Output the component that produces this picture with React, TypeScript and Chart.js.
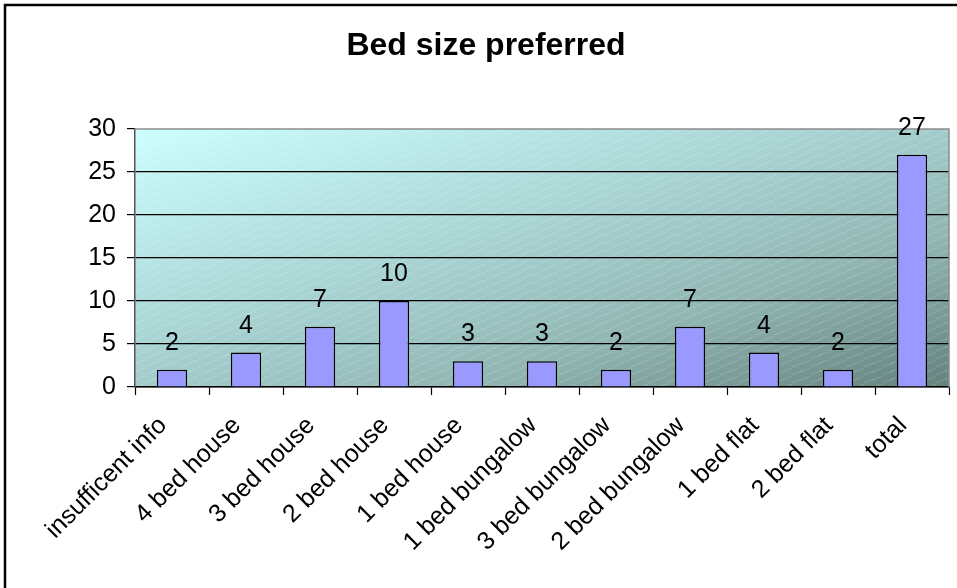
import React, { useEffect, useRef } from "react";
import { Chart, registerables } from "chart.js";

Chart.register(...registerables);

const categories = [
  "insufficent info",
  "4 bed house",
  "3 bed house",
  "2 bed house",
  "1 bed house",
  "1 bed bungalow",
  "3 bed bungalow",
  "2 bed bungalow",
  "1 bed flat",
  "2 bed flat",
  "total",
];
const counts = [2, 4, 7, 10, 3, 3, 2, 7, 4, 2, 27];
const yMin = 0;
const yMax = 30;
const yStep = 5;
const chartTitle = "Bed size preferred";

const FONT = "'Liberation Sans', Arial, Helvetica, sans-serif";

// Faint diagonal dash texture laid over the plot-area gradient.
function makeTexture(ctx: CanvasRenderingContext2D) {
  const tile = document.createElement("canvas");
  tile.width = 18;
  tile.height = 8;
  const t = tile.getContext("2d")!;
  t.strokeStyle = "rgba(255,255,255,0.16)";
  t.lineWidth = 1;
  t.beginPath();
  t.moveTo(0, 7);
  t.lineTo(11, 3);
  t.moveTo(9, 3.5);
  t.lineTo(18, 0.2);
  t.stroke();
  return ctx.createPattern(tile, "repeat");
}

// Outer frame, plot-area gradient and plot border drawn beneath the marks.
const backdropPlugin = {
  id: "backdrop",
  beforeDraw(chart: any) {
    const { ctx, chartArea: a } = chart;
    ctx.save();
    ctx.fillStyle = "#ffffff";
    ctx.fillRect(0, 0, chart.width, chart.height);

    // frame (only its top and left edges fall inside the canvas)
    ctx.strokeStyle = "#000000";
    ctx.lineWidth = 2.5;
    ctx.beginPath();
    ctx.moveTo(5, chart.height + 5);
    ctx.lineTo(5, 5);
    ctx.lineTo(chart.width + 5, 5);
    ctx.stroke();

    // diagonal gradient: equal tones along the bottom-left to top-right diagonal
    const w = a.right - a.left;
    const h = a.bottom - a.top;
    const len = Math.sqrt(w * w + h * h);
    const dx = h / len;
    const dy = w / len;
    const half = (w * h) / len;
    const cx = (a.left + a.right) / 2;
    const cy = (a.top + a.bottom) / 2;
    const g = ctx.createLinearGradient(
      cx - dx * half,
      cy - dy * half,
      cx + dx * half,
      cy + dy * half
    );
    g.addColorStop(0, "#ccffff");
    g.addColorStop(0.5, "#a2cccb");
    g.addColorStop(0.7, "#91b6b3");
    g.addColorStop(1, "#64827e");
    ctx.fillStyle = g;
    ctx.fillRect(a.left, a.top, w, h);
    const pat = makeTexture(ctx);
    if (pat) {
      ctx.fillStyle = pat;
      ctx.fillRect(a.left, a.top, w, h);
    }
    ctx.restore();
  },
  beforeDatasetsDraw(chart: any) {
    const { ctx, chartArea: a } = chart;
    ctx.save();
    ctx.strokeStyle = "#8c8c8c";
    ctx.lineWidth = 1.5;
    ctx.beginPath();
    ctx.moveTo(a.left, a.top);
    ctx.lineTo(a.right, a.top);
    ctx.lineTo(a.right, a.bottom);
    ctx.stroke();
    ctx.restore();
  },
};

// Value labels above each bar, and the chart title.
const labelsPlugin = {
  id: "valueLabels",
  afterDatasetsDraw(chart: any) {
    const { ctx } = chart;
    const meta = chart.getDatasetMeta(0);
    ctx.save();
    ctx.font = `25px ${FONT}`;
    ctx.fillStyle = "#000000";
    ctx.textAlign = "center";
    ctx.textBaseline = "alphabetic";
    meta.data.forEach((bar: any, i: number) => {
      ctx.fillText(String(counts[i]), bar.x, bar.y - 20);
    });
    ctx.restore();
  },
  afterDraw(chart: any) {
    const { ctx } = chart;
    ctx.save();
    ctx.font = `bold 32px ${FONT}`;
    ctx.fillStyle = "#000000";
    ctx.textAlign = "center";
    ctx.textBaseline = "alphabetic";
    ctx.fillText(chartTitle, 486, 55);
    ctx.restore();
  },
};

export default function App() {
  const canvasRef = useRef<HTMLCanvasElement | null>(null);

  useEffect(() => {
    const canvas = canvasRef.current;
    if (!canvas) return;
    const chart = new Chart(canvas, {
      type: "bar",
      data: {
        labels: categories,
        datasets: [
          {
            data: counts,
            backgroundColor: "#9999ff",
            borderColor: "#000000",
            borderWidth: 1.5,
            barPercentage: 0.41,
            categoryPercentage: 1,
          },
        ],
      },
      options: {
        responsive: false,
        animation: false,
        devicePixelRatio: 1,
        layout: { padding: { top: 129, right: 8, left: 0, bottom: 0 } },
        plugins: {
          legend: { display: false },
          title: { display: false },
          tooltip: { enabled: false },
        },
        scales: {
          x: {
            offset: true,
            grid: {
              offset: true,
              drawOnChartArea: false,
              drawTicks: true,
              tickLength: 8,
              tickColor: "#000000",
              tickWidth: 1.2,
            },
            border: { display: true, color: "#000000", width: 1.5 },
            ticks: {
              autoSkip: false,
              minRotation: 45,
              maxRotation: 45,
              padding: 16,
              labelOffset: -9,
              color: "#000000",
              font: { family: FONT, size: 25 },
            },
            afterFit(scale: any) {
              scale.height = 201;
            },
          },
          y: {
            min: yMin,
            max: yMax,
            ticks: {
              stepSize: yStep,
              padding: 11,
              color: "#000000",
              font: { family: FONT, size: 25 },
            },
            grid: {
              color: (c: any) =>
                c.tick && c.tick.value === yMax ? "rgba(0,0,0,0)" : "#000000",
              lineWidth: 1.2,
              tickLength: 8,
              tickColor: "#000000",
              tickWidth: 1.2,
            },
            border: { display: true, color: "#555555", width: 1.5 },
            afterFit(scale: any) {
              scale.width = 135;
            },
          },
        },
      },
      plugins: [backdropPlugin, labelsPlugin],
    });
    return () => chart.destroy();
  }, []);

  return (
    <div style={{ position: "absolute", left: 0, top: 0, width: 957, height: 588 }}>
      <canvas ref={canvasRef} width={957} height={588} style={{ display: "block" }} />
    </div>
  );
}
